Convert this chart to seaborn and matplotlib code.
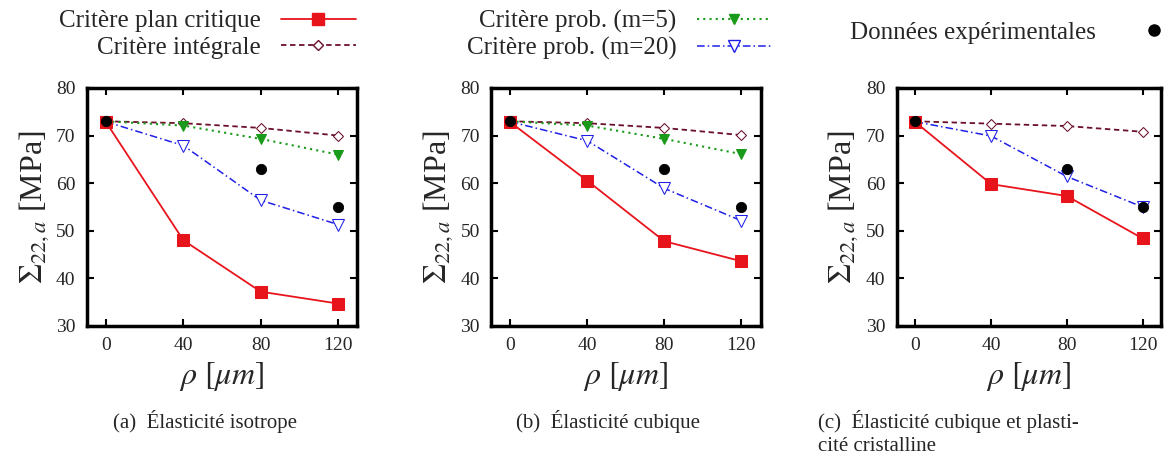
import numpy as np
import pandas as pd
import seaborn as sns
import matplotlib.pyplot as plt
from matplotlib.lines import Line2D

sns.set_style("ticks")
plt.rcParams['font.family'] = ['Liberation Serif', 'DejaVu Serif']
plt.rcParams['mathtext.fontset'] = 'stix'

rho = [0, 40, 80, 120]
# panel values
plan = [[72.8, 48.0, 37.2, 34.7], [72.8, 60.5, 47.8, 43.6], [72.8, 59.8, 57.3, 48.4]]
integ = [[73.0, 72.6, 71.6, 70.0], [73.0, 72.6, 71.6, 70.1], [73.0, 72.5, 72.0, 70.8]]
prob5 = [[73.0, 72.1, 69.3, 66.0], [73.0, 72.1, 69.3, 66.1], None]
prob20 = [[72.9, 67.9, 56.4, 51.3], [72.9, 68.9, 58.9, 52.1], [72.9, 69.9, 61.4, 55.0]]
exp_x = [0, 80, 120]
exp_y = [73.0, 63.0, 55.0]
captions = ["(a)  Élasticité isotrope", "(b)  Élasticité cubique",
            "(c)  Élasticité cubique et plasti-\ncité cristalline"]

red, purple, green, blue = "#e8141c", "#6b0f2a", "#1a9a1a", "#1f1fe8"
styles = {
    "plan": dict(color=red, linestyle="-", marker="s", markersize=8, markerfacecolor=red, lw=1.3),
    "integ": dict(color=purple, linestyle=(0, (3, 2)), marker="D", markersize=5.5, markerfacecolor="white", lw=1.3),
    "prob5": dict(color=green, linestyle=(0, (1, 2)), marker="v", markersize=6.5, markerfacecolor=green, lw=1.5),
    "prob20": dict(color=blue, linestyle=(0, (5, 2, 1, 2)), marker="v", markersize=8, markerfacecolor="white", lw=1.1),
}

fig = plt.figure(figsize=(11.72, 4.63), dpi=100)
lefts = [0.074, 0.419, 0.765]
widths = [0.231, 0.230, 0.226]
for i in range(3):
    ax = fig.add_axes([lefts[i], 0.296, widths[i], 0.514])
    for key, vals in [("integ", integ[i]), ("prob5", prob5[i]), ("prob20", prob20[i]), ("plan", plan[i])]:
        if vals is None:
            continue
        sns.lineplot(x=rho, y=vals, ax=ax, markeredgecolor=styles[key]["color"], **styles[key])
    sns.scatterplot(x=exp_x, y=exp_y, ax=ax, color="black", s=55, zorder=5, edgecolor="black")
    ax.set_xlim(-10, 130)
    ax.set_ylim(30, 80)
    ax.set_xticks(rho)
    ax.set_yticks(range(30, 81, 10))
    ax.tick_params(direction="in", length=5, width=1.5, labelsize=14, top=True, right=True,
                   pad=8, color="black")
    for s in ax.spines.values():
        s.set_linewidth(2.5)
        s.set_color("black")
    ax.set_xlabel(r"$\rho\ [\mu m]$", fontsize=23, labelpad=4)
    ax.set_ylabel(r"$\Sigma_{22,a}$ [MPa]", fontsize=23, labelpad=4)
    if i == 2:
        fig.text(0.698, 0.115, captions[i], fontsize=15, ha="left", va="top", linespacing=1.3)
    else:
        fig.text(lefts[i] + widths[i] / 2 - 0.015, 0.115, captions[i], fontsize=15, ha="center", va="top")

def handle(key):
    return Line2D([], [], markeredgecolor=styles[key]["color"], **styles[key])

leg_kw = dict(frameon=False, fontsize=18, markerfirst=False, handlelength=3.0, labelspacing=0.15,
              borderaxespad=0, handletextpad=0.8)
fig.legend([handle("plan"), handle("integ")], ["Critère plan critique", "Critère intégrale"],
           loc="upper right", bbox_to_anchor=(0.312, 1.0), **leg_kw)
fig.legend([handle("prob5"), handle("prob20")], ["Critère prob. (m=5)", "Critère prob. (m=20)"],
           loc="upper right", bbox_to_anchor=(0.667, 1.0), **leg_kw)
fig.legend([Line2D([], [], ls="none", marker="o", color="black", markersize=8)], ["Données expérimentales"],
           loc="upper right", bbox_to_anchor=(1.025, 0.975), **leg_kw)

fig.savefig("out.png", dpi=100)
